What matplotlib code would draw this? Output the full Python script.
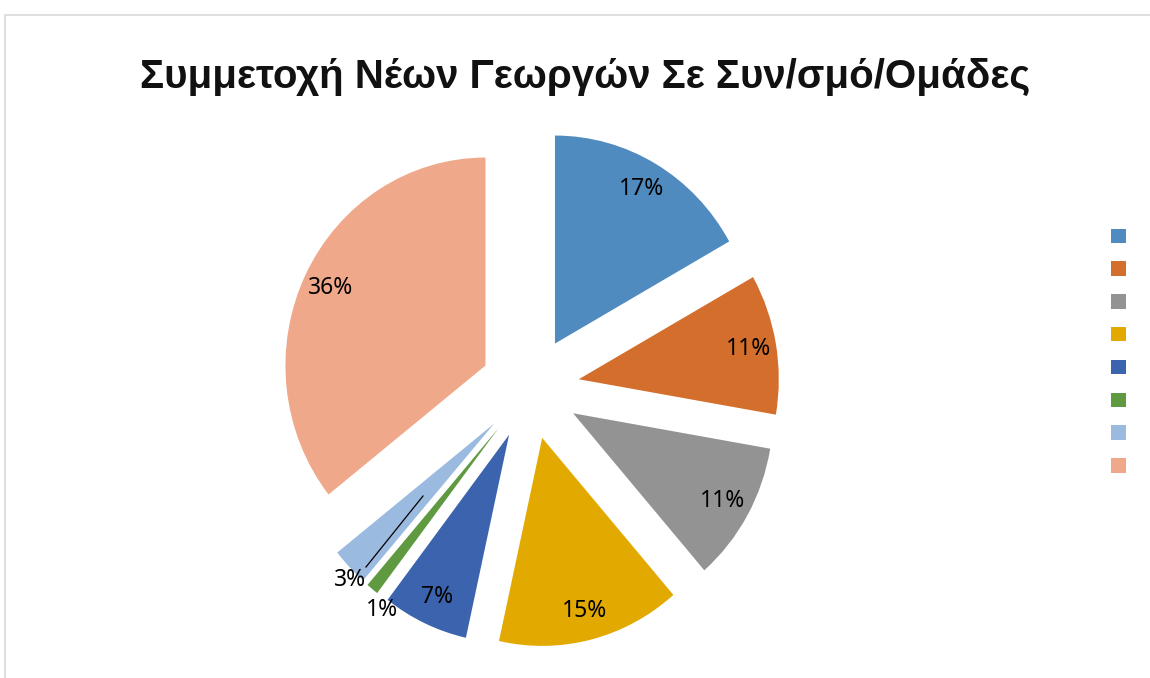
import matplotlib.pyplot as plt
from matplotlib.patches import Rectangle

title = "Συμμετοχή Νέων Γεωργών Σε Συν/σμό/Ομάδες"
shares = [17, 11, 11, 15, 7, 1, 3, 36]
colors = ["#4F8BBF", "#D46E2C", "#939393", "#E2AA00",
          "#3C64AE", "#5F9A40", "#9ABAE0", "#F0A88B"]

plt.rcParams['font.family'] = ['Noto Sans', 'DejaVu Sans']

fig = plt.figure(figsize=(11.5, 6.78), dpi=100)
W, H = 1150, 678

# chart border (light grey, runs off right/bottom)
fig.patches.append(Rectangle((5 / W, -0.1), 1.2, (H - 15) / H + 0.1,
                             transform=fig.transFigure, fill=False,
                             edgecolor="#d9d9d9", lw=1.2))

fig.text(585 / W, 1 - 77 / H, title, ha='center', va='center',
         fontsize=29, fontweight='bold', color='#111111',
         family=['Liberation Sans', 'DejaVu Sans'])

# pie centre at (530, 388) px; slightly taller than wide in the original
RX, RY = 200, 208
cx, cy = 530, H - 388
aw, ah = 600, 560
ax = fig.add_axes([(cx - aw / 2) / W, (cy - ah / 2) / H, aw / W, ah / H])

wedges, texts, autotexts = ax.pie(
    shares, colors=colors, startangle=90, counterclock=False,
    explode=[0.2475] * len(shares), autopct='%1.0f%%', pctdistance=0.86,
    radius=1, frame=False, textprops=dict(fontsize=16.5, color='black'))
ax.set_aspect('auto')
ax.set_xlim(-aw / 2 / RX, aw / 2 / RX)
ax.set_ylim(-ah / 2 / RY, ah / 2 / RY)
ax.axis('off')


def px(x, y):
    return ((x - 530) / RX, (388 - y) / RY)


# small slices have their labels outside
autotexts[5].set_position(px(382, 610))
autotexts[6].set_position(px(350, 580))
x0, y0 = px(423, 496)
x1, y1 = px(366, 567)
ax.plot([x0, x1], [y0, y1], color='black', lw=0.9)

fig.legend(wedges, [' '] * len(shares), loc='upper left',
           bbox_to_anchor=(1111 / W, 1 - 228 / H), frameon=False,
           fontsize=13, handlelength=0.85, handleheight=0.85,
           labelspacing=0.82, handletextpad=0.2, borderpad=0, borderaxespad=0)

fig.savefig('out.png', dpi=100)
